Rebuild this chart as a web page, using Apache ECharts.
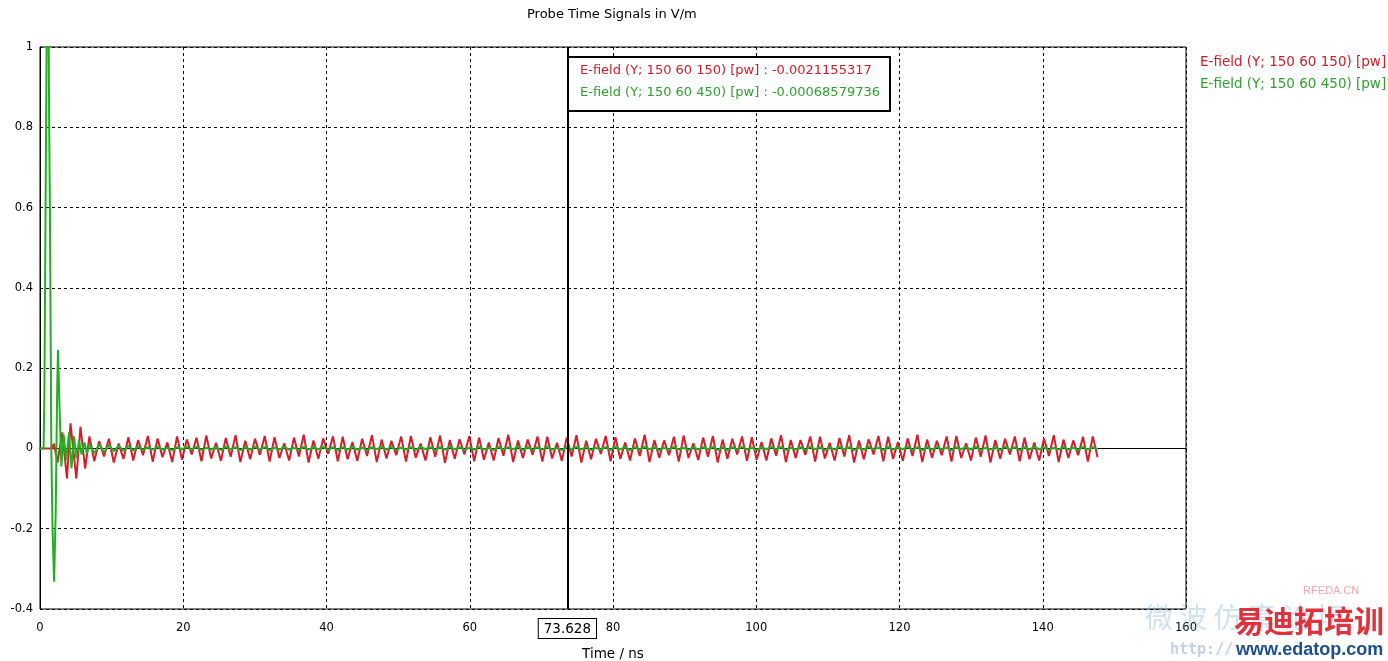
<!DOCTYPE html>
<html>
<head>
<meta charset="utf-8">
<script src="https://cdn.jsdelivr.net/npm/echarts@6/dist/echarts.min.js"></script>
<style>
html,body{margin:0;padding:0;background:#fff;}
#chart{width:1388px;height:661px;}
</style>
</head>
<body>
<div id="chart"></div>
<script>
// ---- data ----
const titleText = 'Probe Time Signals in V/m';
const xAxisName = 'Time / ns';
const seriesNames = ['E-field (Y; 150 60 150) [pw]', 'E-field (Y; 150 60 450) [pw]'];
const cursorTime = 73.628;
const cursorLabel = '73.628';
const cursorValues = ['-0.0021155317', '-0.00068579736'];

// early transient (irregular sample times, ns)
const redEarlyT = [0, 1.7, 1.95, 2.45, 3.1, 3.77, 4.26, 5.07, 5.65, 6.3, 6.9];
const redEarlyV = [0, 0, 0.012, -0.035, 0.04, -0.075, 0.0625, -0.075, 0.054, -0.05, 0.03];
const greenEarlyT = [0, 0.5, 0.62, 0.72, 0.85, 1.0, 1.12, 1.22, 1.28, 1.4, 1.58, 1.75, 1.97, 2.2, 2.4, 2.51, 2.7, 2.98, 3.3, 3.65, 4.05, 4.4, 4.75, 5.1, 5.45, 5.8, 6.2, 6.55, 6.9];
const greenEarlyV = [0, 0, 0.15, 0.44, 0.8, 1.2, 1.25, 1.0, 0.82, 0.55, 0.0, -0.2, -0.332, -0.15, 0.15, 0.245, 0.12, -0.045, 0.035, -0.03, 0.04, -0.05, 0.03, -0.025, 0.02, -0.015, 0.015, -0.012, 0.01];

// steady part: half-period samples (extrema) starting at steadyStart, spacing steadyStep (ns)
const steadyStart = 7.58;
const steadyStep = 0.68;
const redSteady = [
 -0.032,0.018,-0.020,0.024,-0.035,0.012,-0.026,0.028,-0.030,0.021,
 -0.017,0.031,-0.033,0.025,-0.022,0.015,-0.034,0.030,-0.028,0.022,
 -0.015,0.027,-0.032,0.032,-0.025,0.014,-0.031,0.026,-0.021,0.033,
 -0.034,0.019,-0.027,0.024,-0.016,0.031,-0.033,0.028,-0.024,0.013,
 -0.030,0.027,-0.020,0.034,-0.035,0.020,-0.026,0.025,-0.014,0.030,
 -0.032,0.029,-0.027,0.016,-0.031,0.024,-0.019,0.033,-0.034,0.022,
 -0.025,0.019,-0.017,0.030,-0.033,0.031,-0.023,0.012,-0.030,0.028,
 -0.021,0.032,-0.036,0.021,-0.026,0.023,-0.015,0.031,-0.032,0.027,
 -0.028,0.015,-0.030,0.026,-0.018,0.034,-0.034,0.020,-0.024,0.022,
 -0.016,0.030,-0.033,0.029,-0.025,0.014,-0.031,0.027,-0.020,0.033,
 -0.035,0.019,-0.027,0.024,-0.014,0.031,-0.032,0.028,-0.026,0.015,
 -0.030,0.025,-0.019,0.034,-0.034,0.021,-0.023,0.020,-0.017,0.029,
 -0.033,0.032,-0.024,0.013,-0.029,0.027,-0.021,0.031,-0.035,0.022,
 -0.026,0.024,-0.015,0.030,-0.031,0.028,-0.028,0.016,-0.030,0.025,
 -0.018,0.033,-0.034,0.021,-0.024,0.021,-0.016,0.030,-0.033,0.029,
 -0.025,0.014,-0.030,0.026,-0.020,0.033,-0.035,0.020,-0.027,0.023,
 -0.015,0.031,-0.032,0.029,-0.026,0.016,-0.031,0.025,-0.019,0.034,
 -0.034,0.022,-0.023,0.019,-0.017,0.030,-0.033,0.031,-0.024,0.013,
 -0.030,0.027,-0.021,0.032,-0.035,0.021,-0.026,0.024,-0.015,0.030,
 -0.032,0.027,-0.027,0.015,-0.030,0.025,-0.019,0.033,-0.034,0.022,
 -0.024,0.020,-0.017,0.029,-0.033,0.030,-0.022
];
const greenSteady = [
 -0.012,0.010,-0.009,0.008,-0.007,0.007,-0.006,0.006,-0.005,0.005,
 -0.004,0.003,-0.003,0.004,-0.003,0.002,-0.004,0.003,-0.002,0.004,
 -0.003,0.004,-0.004,0.002,-0.003,0.003,-0.004,0.004,-0.002,0.003,
 -0.004,0.003,-0.003,0.004,-0.002,0.003,-0.004,0.002,-0.003,0.004,
 -0.003,0.002,-0.004,0.004,-0.003,0.003,-0.002,0.004,-0.004,0.003,
 -0.004,0.003,-0.003,0.004,-0.003,0.002,-0.004,0.003,-0.002,0.004,
 -0.003,0.004,-0.004,0.002,-0.003,0.003,-0.004,0.004,-0.002,0.003,
 -0.004,0.003,-0.003,0.004,-0.002,0.003,-0.004,0.002,-0.003,0.004,
 -0.003,0.002,-0.004,0.004,-0.003,0.003,-0.002,0.004,-0.004,0.003,
 -0.004,0.003,-0.003,0.004,-0.003,0.002,-0.004,0.003,-0.002,0.004,
 -0.003,0.004,-0.004,0.002,-0.003,0.003,-0.004,0.004,-0.002,0.003,
 -0.004,0.003,-0.003,0.004,-0.002,0.003,-0.004,0.002,-0.003,0.004,
 -0.003,0.002,-0.004,0.004,-0.003,0.003,-0.002,0.004,-0.004,0.003,
 -0.004,0.003,-0.003,0.004,-0.003,0.002,-0.004,0.003,-0.002,0.004,
 -0.003,0.004,-0.004,0.002,-0.003,0.003,-0.004,0.004,-0.002,0.003,
 -0.004,0.003,-0.003,0.004,-0.002,0.003,-0.004,0.002,-0.003,0.004,
 -0.003,0.002,-0.004,0.004,-0.003,0.003,-0.002,0.004,-0.004,0.003,
 -0.004,0.003,-0.003,0.004,-0.003,0.002,-0.004,0.003,-0.002,0.004,
 -0.003,0.004,-0.004,0.002,-0.003,0.003,-0.004,0.004,-0.002,0.003,
 -0.004,0.003,-0.003,0.004,-0.002,0.003,-0.004,0.002,-0.003,0.004,
 -0.003,0.002,-0.004,0.004,-0.003,0.003,-0.002
];

// ---- styles ----
const redLine = '#d11f2b', greenLine = '#22b022';
const redText = '#c8212b', greenText = '#2f9f2f';
const FONT = 'DejaVu Sans';

function buildSeries(earlyT, earlyV, steady) {
  const pts = earlyT.map((t, i) => [t, earlyV[i]]);
  steady.forEach((v, i) => pts.push([+(steadyStart + i * steadyStep).toFixed(3), v]));
  return pts;
}

const chart = echarts.init(document.getElementById('chart'), null, {renderer: 'canvas'});
chart.setOption({
  animation: false,
  backgroundColor: '#fff',
  title: {
    text: titleText, left: 522, top: 3,
    textStyle: {fontFamily: FONT, fontSize: 13, fontWeight: 'normal', color: '#000'}
  },
  legend: {
    orient: 'vertical', left: 1190, top: 50, icon: 'none',
    itemWidth: 0, itemHeight: 14, itemGap: 8,
    textStyle: {fontFamily: FONT, fontSize: 13.5},
    data: [
      {name: seriesNames[0], textStyle: {color: redText}},
      {name: seriesNames[1], textStyle: {color: greenText}}
    ],
    selectedMode: false
  },
  grid: {left: 40, right: 202, top: 47, bottom: 52, outerBoundsMode: 'none', containLabel: false,
         show: true, borderColor: '#000', borderWidth: 1, backgroundColor: '#fff'},
  xAxis: {
    type: 'value', min: 0, max: 160, interval: 20,
    name: xAxisName, nameLocation: 'middle', nameGap: 38,
    nameTextStyle: {fontFamily: FONT, fontSize: 13.5, color: '#000'},
    axisLine: {lineStyle: {color: '#000', width: 1}},
    axisTick: {show: true, length: 4, lineStyle: {color: '#000'}},
    axisLabel: {fontFamily: FONT, fontSize: 11.5, color: '#000', margin: 13},
    splitLine: {show: true, lineStyle: {color: '#000', width: 1, type: [3, 3]}}
  },
  yAxis: {
    type: 'value', min: -0.4, max: 1, interval: 0.2,
    axisLine: {show: true, lineStyle: {color: '#000', width: 1}},
    axisTick: {show: false},
    axisLabel: {fontFamily: FONT, fontSize: 11.5, color: '#000', margin: 7},
    splitLine: {show: true, lineStyle: {color: '#000', width: 1, type: [3, 3]}}
  },
  series: [
    {
      name: seriesNames[0], type: 'line', showSymbol: false, symbol: 'none',
      data: buildSeries(redEarlyT, redEarlyV, redSteady),
      lineStyle: {color: redLine, width: 2}, itemStyle: {color: redLine}, z: 3
    },
    {
      name: seriesNames[1], type: 'line', showSymbol: false, symbol: 'none',
      data: buildSeries(greenEarlyT, greenEarlyV, greenSteady),
      lineStyle: {color: greenLine, width: 2}, itemStyle: {color: greenLine}, z: 4,
      markLine: {
        silent: true, symbol: ['none', 'none'], animation: false,
        lineStyle: {color: '#000', width: 2, type: 'solid'},
        label: {
          show: true, position: 'start', formatter: cursorLabel, distance: 10,
          fontFamily: FONT, fontSize: 13.5, color: '#000',
          backgroundColor: '#fff', borderColor: '#000', borderWidth: 1,
          padding: [3, 5, 2, 5]
        },
        data: [{xAxis: cursorTime}]
      }
    }
  ],
  graphic: [
    {type: 'rect', z: 100, shape: {x: 568, y: 57, width: 322, height: 54},
     style: {fill: '#fff', stroke: '#000', lineWidth: 2}},
    {type: 'text', z: 101, left: 580, top: 64,
     style: {text: seriesNames[0] + ' : ' + cursorValues[0], fill: redText, font: '13px "' + FONT + '"'}},
    {type: 'text', z: 101, left: 580, top: 86,
     style: {text: seriesNames[1] + ' : ' + cursorValues[1], fill: greenText, font: '13px "' + FONT + '"'}},
    // website watermark
    {type: 'text', z: 50, left: 1303, top: 585,
     style: {text: 'RFEDA.CN', fill: '#f3a7ae', font: '11px "Liberation Sans"'}},
    {type: 'text', z: 50, left: 1145, top: 603,
     style: {text: '微 波 仿 真 论 坛', fill: 'rgba(120,170,210,0.35)', font: '28px "Noto Sans CJK SC"'}},
    {type: 'text', z: 51, left: 1234, top: 606,
     style: {text: '易迪拓培训', fill: '#e0323c', font: 'bold 30px "Noto Sans CJK SC"'}},
    {type: 'text', z: 50, left: 1170, top: 643,
     style: {text: 'http://', fill: 'rgba(120,150,190,0.45)', font: 'bold 15px "DejaVu Sans Mono"'}},
    {type: 'text', z: 51, left: 1236, top: 641,
     style: {text: 'www.edatop.com', fill: '#1d4e8c', font: 'bold 18px "Liberation Sans"'}}
  ]
});
</script>
</body>
</html>
